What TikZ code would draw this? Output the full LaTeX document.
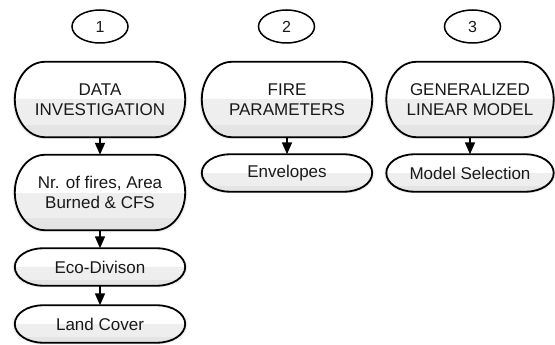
\documentclass[tikz,border=0pt]{standalone}
\usepackage{fontspec}
\setmainfont{Liberation Sans}
\usetikzlibrary{arrows.meta,shadows,calc,shapes.geometric,backgrounds}
\tikzset{
  halfgray/.style={path picture={
      \fill[gray!13] (path picture bounding box.west) rectangle (path picture bounding box.south east);
      \fill[gray!21] ($(path picture bounding box.south west)!0.16!(path picture bounding box.north west)$) rectangle (path picture bounding box.south east);}},
  pillpath/.style={draw=black, line width=1.8pt, fill=white, halfgray,
      drop shadow={shadow xshift=0pt, shadow yshift=-1pt, opacity=0.13, shadow scale=1.025}},
  basebox/.style={align=center, inner sep=0pt, text=black!90, font=\fontsize{17}{20}\selectfont},
  bigbox/.style={basebox, minimum height=75pt},
  smallbox/.style={basebox, minimum height=37pt},
  numell/.style={draw=black, line width=1.5pt, ellipse, minimum width=56pt, minimum height=33pt,
      inner sep=0pt, font=\fontsize{16}{18}\selectfont, text=black!90},
  arr/.style={line width=1.7pt, -{Triangle[width=10pt,length=12pt]}}
}
\newcommand\pill[2]{%
  \path[pillpath] let \p1=(#1.north), \p2=(#1.south), \n1={(\y1-\y2)/2} in
    ($(#1.north west)+(#2,0)$) -- ($(#1.north east)+(-#2,0)$)
    arc[start angle=90,end angle=-90,x radius=#2,y radius=\n1]
    -- ($(#1.south west)+(#2,0)$)
    arc[start angle=270,end angle=90,x radius=#2,y radius=\n1] -- cycle;}
\begin{document}
\begin{tikzpicture}[x=1pt,y=-1pt]
\useasboundingbox (0,0) rectangle (555,345);
\node[numell] (c1) at (100,26.5) {1};
\node[numell] (c2) at (286.5,26.5) {2};
\node[numell] (c3) at (472.5,26.5) {3};

\node[bigbox, minimum width=170pt] (a1) at (100,99.5) {DATA\\INVESTIGATION};
\node[bigbox, minimum width=170pt] (b1) at (100,192.5) {Nr. of fires, Area\\Burned \& CFS};
\node[smallbox, minimum width=170pt] (e1) at (100,267) {Eco-Divison};
\node[smallbox, minimum width=170pt] (l1) at (100,324) {Land Cover};

\node[bigbox, minimum width=170pt] (a2) at (287,99.5) {FIRE\\PARAMETERS};
\node[smallbox, minimum width=170pt] (b2) at (287,173) {Envelopes};

\node[bigbox, minimum width=167pt] (a3) at (470,99.5) {GENERALIZED\\LINEAR MODEL};
\node[smallbox, minimum width=167pt] (b3) at (470,173) {Model Selection};

\begin{scope}[on background layer]
  \pill{a1}{30pt}
  \pill{b1}{30pt}
  \pill{e1}{28pt}
  \pill{l1}{28pt}
  \pill{a2}{30pt}
  \pill{b2}{28pt}
  \pill{a3}{30pt}
  \pill{b3}{28pt}
\end{scope}

\draw[arr] (a1) -- (b1);
\draw[arr] (b1) -- (e1);
\draw[arr] (e1) -- (l1);
\draw[arr] (a2) -- (b2);
\draw[arr] (a3) -- (b3);
\end{tikzpicture}
\end{document}
